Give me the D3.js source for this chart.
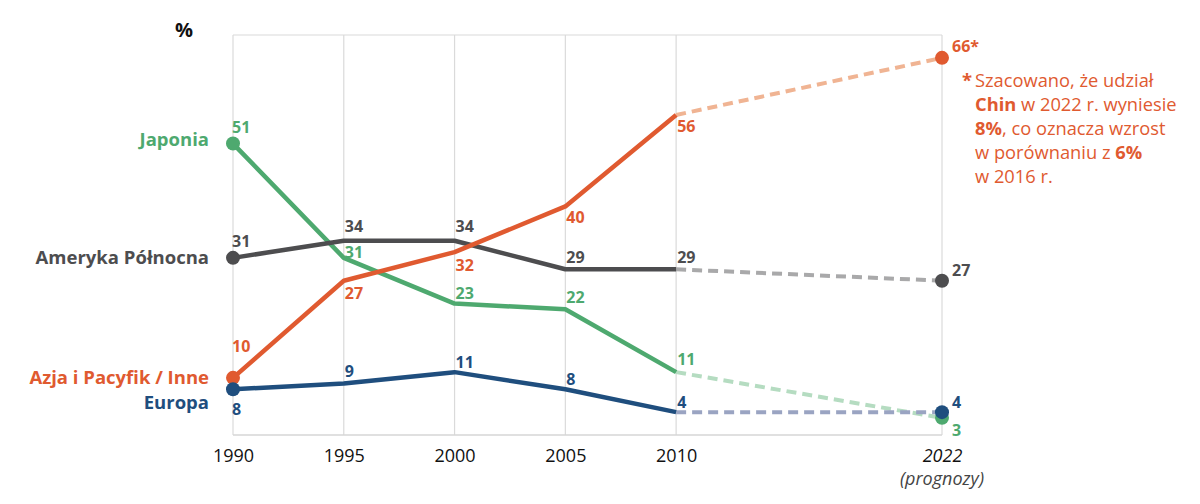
<!DOCTYPE html>
<html>
<head>
<meta charset="utf-8">
<script src="https://cdn.jsdelivr.net/npm/d3@7"></script>
<style>
  body { margin: 0; background: #fff; }
  svg text { font-family: "Open Sans", "Noto Sans", sans-serif; }
</style>
</head>
<body>
<svg id="chart" width="1200" height="504"></svg>
<script>
var years = [1990, 1995, 2000, 2005, 2010, 2022]
var names = ["Japonia", "Ameryka Północna", "Azja i Pacyfik / Inne", "Europa"]
var japonia = [51, 31, 23, 22, 11, 3]
var ameryka = [31, 34, 34, 29, 29, 27]
var azja = [10, 27, 32, 40, 56, 66]
var europa = [8, 9, 11, 8, 4, 4]
var valueLabels = [
    ["51", "31", "23", "22", "11", "3"],
    ["31", "34", "34", "29", "29", "27"],
    ["10", "27", "32", "40", "56", "66*"],
    ["8", "9", "11", "8", "4", "4"]
]

// colours and label placement
var colors = ["#4ea96f", "#4d4d4f", "#e05a30", "#1f4e7e"]
var dashColors = ["#b5dcc1", "#a9a9aa", "#f0b493", "#9aa4c2"]
var labelDy = [
    [-11, 0, -5, -6, -7, 18],
    [-11, -9, -9, -6, -6, -5],
    [-26, 18, 18.5, 17, 16.5, -6],
    [26, -7, -4, -4, -4, -4]
]
var nameY = [146, 264, 384, 409]

var series = [japonia, ameryka, azja, europa].map((vals, i) => ({
    name: names[i],
    values: vals.map((v, j) => ({ year: years[j], value: v, label: valueLabels[i][j], dy: labelDy[i][j] }))
}))

var svg = d3.select("#chart")
var x = d3.scaleLinear().domain([1990, 2022]).range([233, 942])
var y = d3.scaleLinear().domain([0, 70]).range([435, 35])

var grid = svg.append("g")
grid.selectAll("line.v")
    .data(years)
    .enter()
    .append("line")
        .attr("x1", d => x(d)).attr("x2", d => x(d))
        .attr("y1", y(70)).attr("y2", y(0))
        .attr("stroke", "#dadada").attr("stroke-width", 1.2)
grid.append("line")
    .attr("x1", x(1990)).attr("x2", x(2022))
    .attr("y1", y(70)).attr("y2", y(70))
    .attr("stroke", "#dadada").attr("stroke-width", 1.2)
grid.append("line")
    .attr("x1", x(1990)).attr("x2", x(2022))
    .attr("y1", y(0)).attr("y2", y(0))
    .attr("stroke", "#d6d6d6").attr("stroke-width", 1.5)

var xAxis = d3.axisBottom(x).tickValues(years).tickFormat(d3.format("d")).tickSize(0).tickPadding(0)
var ax = svg.append("g").attr("transform", "translate(0," + (y(0) + 27) + ")").call(xAxis)
ax.select(".domain").remove()
ax.selectAll("text")
    .style("font-size", "18px")
    .attr("fill", "#111")
    .attr("dy", null)
    .style("font-style", d => d == 2022 ? "italic" : null)
svg.append("text")
    .attr("x", x(2022)).attr("y", 485)
    .attr("text-anchor", "middle")
    .style("font-size", "18px").style("font-style", "italic").attr("fill", "#444")
    .text("(prognozy)")

svg.append("text")
    .attr("x", 184).attr("y", 37)
    .attr("text-anchor", "middle")
    .style("font-size", "20px").style("font-weight", "bold").attr("fill", "#111")
    .text("%")

var line = d3.line().x(d => x(d.year)).y(d => y(d.value))

// dashed projections first
svg.append("g").selectAll("path")
    .data(series)
    .enter()
    .append("path")
        .attr("d", d => line(d.values.slice(4)))
        .attr("fill", "none")
        .attr("stroke", (d, i) => dashColors[i])
        .attr("stroke-width", 4)
        .attr("stroke-dasharray", "10,6")

svg.append("g").selectAll("path")
    .data(series)
    .enter()
    .append("path")
        .attr("d", d => line(d.values.slice(0, 5)))
        .attr("fill", "none")
        .attr("stroke", (d, i) => colors[i])
        .attr("stroke-width", 4.5)
        .attr("stroke-linejoin", "round")

var dots = svg.append("g")
series.forEach((s, i) => {
    dots.selectAll(".d" + i)
        .data([s.values[0], s.values[5]])
        .enter()
        .append("circle")
            .attr("cx", d => x(d.year))
            .attr("cy", d => y(d.value))
            .attr("r", 7)
            .attr("fill", colors[i])
})

var labels = svg.append("g")
series.forEach((s, i) => {
    labels.selectAll(".l" + i)
        .data(s.values)
        .enter()
        .append("text")
            .attr("x", d => d.year == 1990 ? x(d.year) - 1 : d.year == 2022 ? x(d.year) + 10 : x(d.year) + 1)
            .attr("y", d => y(d.value) + d.dy)
            .style("font-size", "16px")
            .style("font-weight", "bold")
            .attr("fill", colors[i])
            .text(d => d.label)
    svg.append("text")
        .attr("x", 209).attr("y", nameY[i])
        .attr("text-anchor", "end")
        .style("font-size", "18.5px")
        .style("font-weight", "bold")
        .attr("fill", colors[i])
        .text(s.name)
})

// footnote
var note = [
    [["Szacowano, że udział", false]],
    [["Chin", true], [" w 2022 r. wyniesie", false]],
    [["8%", true], [", co oznacza wzrost", false]],
    [["w porównaniu z ", false], ["6%", true]],
    [["w 2016 r.", false]]
]
var noteG = svg.append("g")
noteG.append("text")
    .attr("x", 962).attr("y", 87)
    .attr("fill", "#e05a30")
    .style("font-size", "18.5px")
    .style("font-weight", "bold")
    .text("*")
note.forEach((parts, i) => {
    var t = noteG.append("text")
        .attr("x", 975).attr("y", 86.5 + i * 24.2)
        .attr("fill", "#e05a30")
        .style("font-size", "18.3px")
    parts.forEach(p => {
        t.append("tspan").style("font-weight", p[1] ? "bold" : "normal").text(p[0])
    })
})
</script>
</body>
</html>
